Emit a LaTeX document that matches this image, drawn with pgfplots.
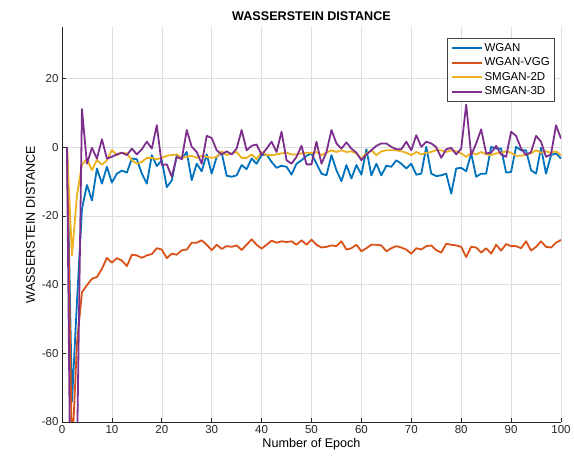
\documentclass[border=0pt]{standalone}
\usepackage{fontspec}
\setmainfont{Liberation Sans}
\usepackage{pgfplots}
\usepackage{pgfplotstable}
\pgfplotsset{compat=1.18}
\definecolor{mblue}{rgb}{0,0.447,0.741}
\definecolor{morange}{rgb}{0.85,0.325,0.098}
\definecolor{myellow}{rgb}{0.929,0.694,0.125}
\definecolor{mpurple}{rgb}{0.494,0.184,0.556}

\pgfplotstableread{
e wgan vgg twod threed
1 0 0 0 0
2 -74 -90 -31.5 -150
3 -45 -57 -14 -90
4 -18 -42.2 -5 11.1
5 -11 -40.2 -3.5 -4.8
6 -15.5 -38.3 -6.7 -0.2
7 -6.2 -37.8 -3.7 -3.3
8 -10.6 -35.4 -5.1 2.3
9 -5.7 -32.2 -3.8 -3.3
10 -10.3 -33.6 -0.8 -2.8
11 -7.7 -32.3 -2.3 -2.1
12 -6.8 -33 -1.6 -1.6
13 -7.4 -34.6 -1.8 -2.3
14 -3.3 -31.3 -3.8 -0.4
15 -3.5 -31.5 -4.8 -2.1
16 -7.7 -32.2 -4.3 -0.6
17 -10.6 -31.5 -3.1 1.6
18 -2.3 -31.1 -3.1 -0.4
19 -5.5 -29.4 -3.5 6.4
20 -3.8 -29.8 -3.1 -5.2
21 -11.6 -32.3 -2.5 -5
22 -9.7 -31 -2.3 -8.6
23 -2.3 -31.3 -2.1 -2.8
24 -3.3 -30 -3.1 -3.5
25 -1.4 -29.8 -2.8 5
26 -9.6 -27.8 -2.5 0.1
27 -4.8 -27.8 -3.1 -1.4
28 -7 -27.1 -2.5 -4.8
29 -2.1 -28.4 -2.8 3.3
30 -7.7 -30 -3.1 2.7
31 -2.8 -28.4 -2.8 -0.9
32 -1.6 -29.6 -1.2 -2.1
33 -8.3 -28.8 -2.3 -1.2
34 -8.6 -29 -1.8 -2.1
35 -8.2 -28.6 -1.4 -0.4
36 -5.2 -29.9 -3.1 5
37 -6.4 -28.4 -3.1 -0.9
38 -3.3 -26.8 -2.1 0.4
39 -4.8 -28.4 -3.5 0.8
40 -2.3 -29.5 -1.4 -2.3
41 -2.1 -28.4 -2.3 -0.4
42 -4.3 -27.2 -2.3 1.6
43 -6 -27.8 -2.1 -1.4
44 -5.4 -27.4 -1.8 4.5
45 -5.7 -27.6 -1.6 -3.8
46 -8 -27.4 -2.1 -4.8
47 -4.8 -28.4 -2.1 -2.8
48 -3.8 -27.1 -1.8 0.4
49 -2.5 -28.4 -1.6 -5
50 -1.8 -26.9 -1.7 -5
51 -4.8 -28.4 -1.4 1.6
52 -7.7 -29.2 -2.3 -4.8
53 -8.2 -29 -1.6 -1.4
54 -2.3 -28.6 -0.9 5
55 -6.7 -28.8 -1.4 1.1
56 -9.9 -27.4 -0.9 -0.4
57 -5.2 -29.8 -1.4 1.4
58 -9.1 -29.4 -1.2 -0.4
59 -5.2 -28.4 -1.8 -1.6
60 -8 -30.3 -3.3 -3.8
61 -0.6 -29.4 -1.8 -2.1
62 -8.2 -28.4 -0.9 -0.9
63 -4.8 -28.4 -2.3 0.4
64 -8.2 -28.6 -1.2 1.1
65 -5.4 -30.3 -0.9 1.1
66 -5.7 -29.4 -0.9 0.1
67 -3.8 -28.8 -0.9 -0.6
68 -4.8 -29.2 -1.2 -0.6
69 -6.2 -29.8 -1.6 1.6
70 -4.8 -31 -2.3 -0.9
71 -8 -29.4 -1.4 3.5
72 -7.7 -29.8 -2.1 0.1
73 0.1 -28.8 -1.6 1.6
74 -7.7 -28.6 -1.4 1.1
75 -8.4 -30 -0.8 0
76 -8.2 -30.7 -0.9 -3.1
77 -7.7 -28.1 -1.4 -0.6
78 -13.5 -28.4 -0.9 -0.2
79 -6.2 -28.6 -1.2 -2.1
80 -6 -29 -1.8 -0.4
81 -7 -32 -2.8 12.4
82 -1.8 -29 -1.6 -2.3
83 -8.6 -29.2 -2.1 1.1
84 -7.7 -30.7 -1.4 5.2
85 -7.7 -29.4 -2.1 -1.8
86 0.1 -31 -2.3 -1.6
87 -0.4 -28.4 -1.8 0.4
88 -0.4 -30.1 -1.6 -2.1
89 -7.4 -28.2 -1.2 -2.8
90 -7.2 -28.8 -1.6 4.5
91 0.1 -28.8 -2.5 3.3
92 -0.9 -29.4 -2.5 -0.4
93 -0.9 -27.4 -2.1 -2.3
94 -6.7 -30.1 -1.8 -1.4
95 -7.7 -29 -0.9 3.3
96 -0.2 -27.4 -1.6 1.6
97 -7.7 -29 -1.2 -2.8
98 -2.3 -29.2 -1.6 -2.1
99 -1.8 -27.8 -1.2 6.4
100 -3.3 -27 -2.3 2.5
}\datatable

\begin{document}
\begin{tikzpicture}
\begin{axis}[
  scale only axis, width=499pt, height=395pt,
  xmin=0, xmax=100, ymin=-80, ymax=35,
  xtick={0,10,...,100}, ytick={-80,-60,-40,-20,0,20},
  axis x line*=bottom, axis y line*=left,
  axis line style={-, black!85, line width=0.6pt},
  tick align=inside,
  major tick length=4pt,
  tick style={black!85, line width=0.6pt},
  grid=major, grid style={black!13, line width=0.5pt},
  title={\bfseries WASSERSTEIN DISTANCE},
  title style={font=\fontsize{12.6}{14}\selectfont, yshift=-3pt},
  xlabel={Number of Epoch}, ylabel={WASSERSTEIN DISTANCE},
  label style={font=\fontsize{12.6}{14}\selectfont},
  xlabel style={yshift=2pt},
  every tick label/.append style={font=\fontsize{11.5}{13}\selectfont, text=black!85},
  /pgf/number format/assume math mode=true,
  legend style={at={(rel axis cs:0.988,0.972)}, anchor=north east,
    font=\fontsize{11.5}{13}\selectfont, draw=black!75, line width=0.6pt,
    row sep=1pt, inner sep=3pt},
  legend cell align=left,
  legend image code/.code={\draw[#1, line width=1.8pt] (0pt,0pt) -- (30pt,0pt);},
  every axis plot/.append style={line width=1.8pt, line join=round},
]
\addplot[mblue, no marks] table[x=e, y=wgan] {\datatable};
\addplot[morange, no marks] table[x=e, y=vgg] {\datatable};
\addplot[myellow, no marks] table[x=e, y=twod] {\datatable};
\addplot[mpurple, no marks] table[x=e, y=threed] {\datatable};
\legend{WGAN, WGAN-VGG, SMGAN-2D, SMGAN-3D}
\end{axis}
\path ([xshift=-62pt,yshift=-35pt]current axis.south west) rectangle ++(574pt,457pt);
\end{tikzpicture}
\end{document}
